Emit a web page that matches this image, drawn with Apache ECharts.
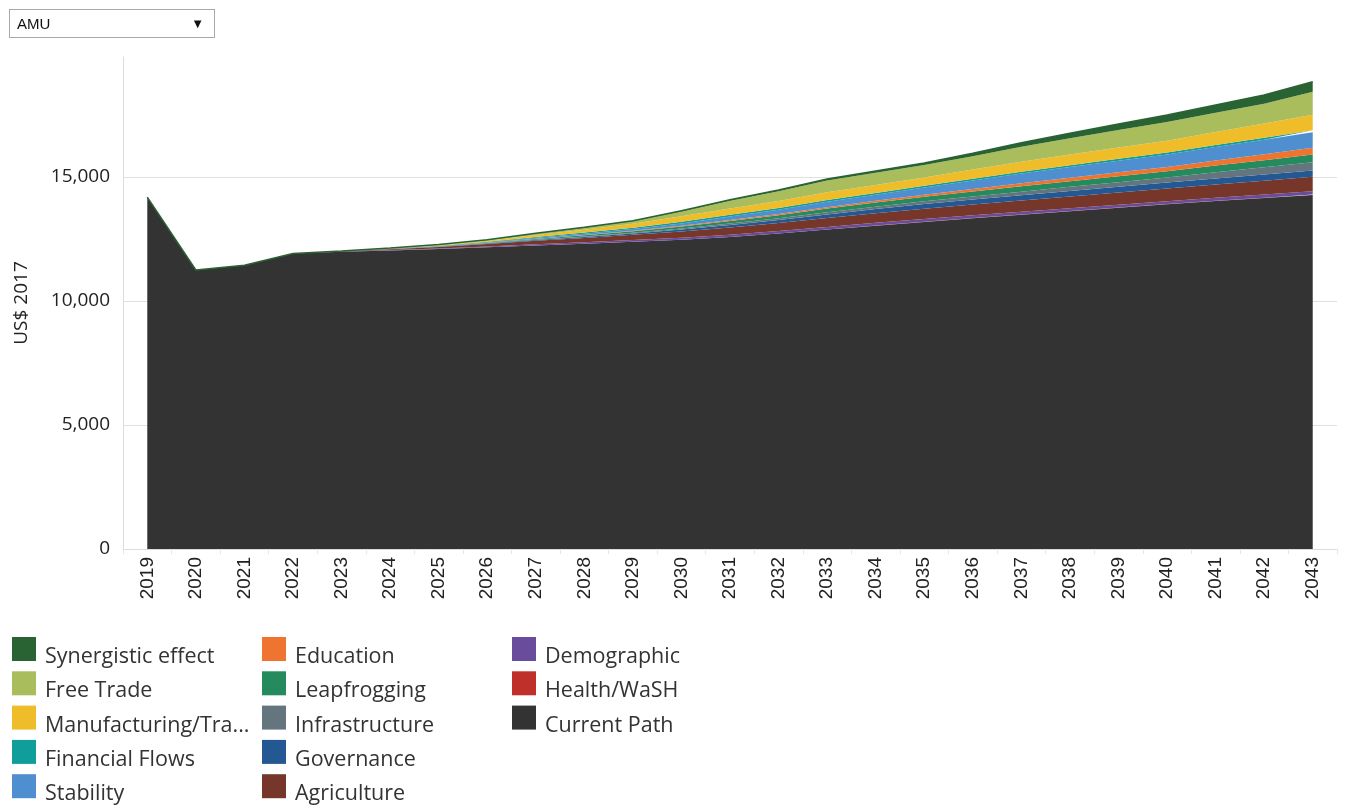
<!DOCTYPE html>
<html>
<head>
<meta charset="utf-8">
<script src="https://cdn.jsdelivr.net/npm/echarts@6/dist/echarts.min.js"></script>
<style>
  html, body { margin: 0; padding: 0; background: #fff; }
  #picker {
    position: absolute; left: 9px; top: 9px; width: 204px; height: 27px;
    border: 1px solid #a9a9a9; box-sizing: content-box;
    font: 15px "Liberation Sans", Arial, sans-serif; color: #111;
  }
  #picker span.val { position: absolute; left: 7px; top: 5px; }
  #picker span.arr { position: absolute; right: 10px; top: 6px; font-size: 13px; }
  #main { position: absolute; left: 0; top: 0; width: 1348px; height: 807px; }
</style>
</head>
<body>
<div id="main"></div>
<div id="picker"><span class="val">AMU</span><span class="arr">&#9660;</span></div>
<script>
// years on the x axis
var years = ['2019','2020','2021','2022','2023','2024','2025','2026','2027','2028','2029','2030',
             '2031','2032','2033','2034','2035','2036','2037','2038','2039','2040','2041','2042','2043'];

// US$ 2017 (stacked, bottom to top)
var currentPath    = [14190,11250,11440,11920,11990,12040,12100,12170,12240,12310,12390,12470,12580,12720,12880,13040,13190,13340,13480,13620,13760,13900,14030,14150,14274];
var healthWash     = [0,0,0,0,0,1,2,2,3,3,4,5,6,7,8,9,10,11,12,13,14,15,17,18,20];
var demographic    = [0,0,0,0,6,13,20,30,45,55,65,80,88,95,100,105,109,109,109,109,109,109,117,125,133];
var agriculture    = [0,0,0,0,12,35,60,95,140,175,210,250,290,320,355,385,410,430,455,475,495,512,535,557,580];
var governance     = [0,0,0,0,2,5,10,18,30,42,58,80,105,125,150,170,190,200,210,222,232,242,246,250,254];
var infrastructure = [0,0,0,0,1,3,5,9,15,20,28,40,55,70,85,97,110,125,145,165,182,200,245,290,335];
var leapfrogging   = [0,0,0,0,2,5,10,18,32,45,60,80,105,125,150,170,190,205,218,230,242,254,272,291,310];
var education      = [0,0,0,0,0,1,3,6,10,14,19,28,38,48,58,68,80,100,120,138,155,173,205,237,270];
var stability      = [0,0,0,0,1,5,10,18,35,50,68,93,140,175,215,245,290,340,390,430,470,505,545,585,626];
var financialFlows = [0,0,0,0,2,6,12,22,35,45,55,68,68,68,68,68,68,72,75,77,78,80,80,80,80];
var manufacturing  = [0,0,0,0,2,12,25,45,80,115,155,225,260,285,315,325,335,370,400,430,450,470,525,580,633];
var freeTrade      = [0,0,0,0,1,8,18,30,50,75,100,195,310,385,480,495,500,534,609,653,710,760,771,793,925];
var synergistic    = [0,0,0,0,1,3,5,7,15,21,28,30,40,50,60,70,80,120,160,200,240,280,315,350,403];

var yTicks = [0, 5000, 10000, 15000];

var layers = [
  ['Current Path', currentPath, '#333333'],
  ['Health/WaSH', healthWash, '#c0302a'],
  ['Demographic', demographic, '#6a4c9c'],
  ['Agriculture', agriculture, '#77362a'],
  ['Governance', governance, '#235893'],
  ['Infrastructure', infrastructure, '#64757f'],
  ['Leapfrogging', leapfrogging, '#258a5e'],
  ['Education', education, '#ef7430'],
  ['Stability', stability, '#4f8fcf'],
  ['Financial Flows', financialFlows, '#0f9e9a'],
  ['Manufacturing/Transfers', manufacturing, '#f0bd2a'],
  ['Free Trade', freeTrade, '#a9bd5c'],
  ['Synergistic effect', synergistic, '#2a6333']
];

var series = layers.map(function (l) {
  var top = l[0] === 'Synergistic effect';
  return {
    name: l[0],
    type: 'line',
    stack: 'total',
    data: l[1],
    symbol: 'none',
    color: l[2],
    lineStyle: { width: top ? 1.5 : 0, color: l[2] },
    areaStyle: { color: l[2], opacity: 1 }
  };
});

function legendCol(left, names) {
  return {
    orient: 'vertical',
    left: left,
    top: 630,
    height: 180,
    padding: 0,
    itemWidth: 24,
    itemHeight: 24,
    itemGap: -3.7,
    icon: 'rect',
    selectedMode: false,
    data: names,
    formatter: function (name) {
      var s = name.length > 20 ? name.slice(0, 17) + '...' : name;
      return '{t|' + s + '}';
    },
    textStyle: {
      rich: {
        t: {
          fontFamily: 'Open Sans',
          fontSize: 21.5,
          color: '#333',
          lineHeight: 24,
          padding: [16, 0, 0, 4]
        }
      }
    }
  };
}

var chart = echarts.init(document.getElementById('main'));
chart.setOption({
  animation: false,
  backgroundColor: '#fff',
  grid: { left: 123, right: 11, top: 57, bottom: 258 },
  legend: [
    legendCol(12, ['Synergistic effect', 'Free Trade', 'Manufacturing/Transfers', 'Financial Flows', 'Stability']),
    legendCol(262, ['Education', 'Leapfrogging', 'Infrastructure', 'Governance', 'Agriculture']),
    legendCol(512, ['Demographic', 'Health/WaSH', 'Current Path'])
  ],
  xAxis: {
    type: 'category',
    data: years,
    boundaryGap: true,
    axisLine: { lineStyle: { color: '#dcdcdc' } },
    axisTick: { show: true, length: 5, lineStyle: { color: '#e6e6e6' } },
    axisLabel: {
      rotate: 90,
      margin: 8,
      fontFamily: 'Liberation Sans',
      fontSize: 19,
      color: '#222'
    }
  },
  yAxis: {
    type: 'value',
    min: yTicks[0],
    max: 19840,
    interval: yTicks[1] - yTicks[0],
    name: 'US$ 2017',
    nameLocation: 'middle',
    nameRotate: 90,
    nameGap: 92,
    nameTextStyle: { fontFamily: 'Open Sans', fontSize: 19, color: '#222' },
    axisLine: { show: true, lineStyle: { color: '#dcdcdc' } },
    axisTick: { show: false },
    axisLabel: {
      margin: 13,
      fontFamily: 'Open Sans',
      fontSize: 19,
      color: '#222',
      showMaxLabel: false,
      formatter: function (v) { return v.toLocaleString('en-US'); }
    },
    splitLine: { show: true, showMaxLine: false, lineStyle: { color: '#e0e0e0' } }
  },
  series: series
});
</script>
</body>
</html>
